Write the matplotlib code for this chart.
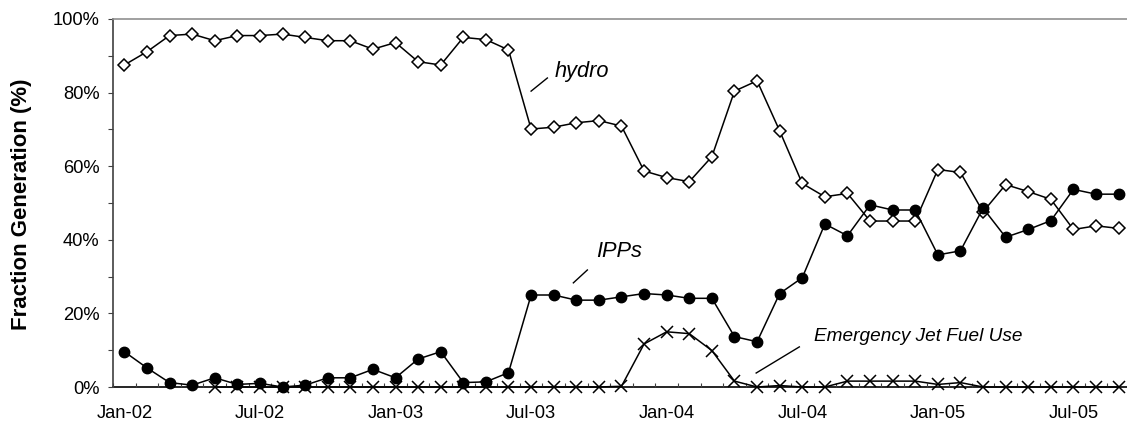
import matplotlib
matplotlib.use('Agg')
import matplotlib.pyplot as plt
from matplotlib.ticker import FixedLocator, NullFormatter, FuncFormatter

plt.rcParams['font.family'] = ['Liberation Sans', 'DejaVu Sans']

# Monthly share of generation, Jan-02 .. Sep-05 (percent)
months = list(range(45))
hydro = [87.5, 91.1, 95.5, 95.9, 94.1, 95.5, 95.5, 95.9, 95.0, 94.1, 94.1, 91.8,
         93.6, 88.4, 87.5, 95.0, 94.4, 91.6, 70.1, 70.6, 71.8, 72.4, 70.9, 58.7,
         56.9, 55.8, 62.6, 80.4, 83.2, 69.6, 55.3, 51.7, 52.6, 45.1, 45.1, 45.1,
         59.1, 58.3, 47.6, 55.0, 53.1, 51.0, 42.8, 43.8, 43.1]
ipps = [9.6, 5.2, 1.2, 0.5, 2.5, 0.7, 1.0, 0.0, 0.5, 2.5, 2.5, 4.8,
        2.5, 7.6, 9.6, 1.2, 1.4, 3.9, 25.0, 25.0, 23.6, 23.6, 24.5, 25.4,
        25.0, 24.1, 24.1, 13.7, 12.3, 25.4, 29.7, 44.3, 41.1, 49.5, 48.1, 48.1,
        35.9, 37.0, 48.6, 40.7, 42.8, 45.2, 53.7, 52.4, 52.4]
jet_fuel = [None, None, None, None, 0, 0, 0, 0, 0, 0, 0, 0,
            0, 0, 0, 0, 0, 0, 0, 0, 0, 0, 0.2, 11.7,
            15.0, 14.5, 9.9, 1.6, 0.0, 0.4, 0.0, 0.0, 1.6, 1.6, 1.6, 1.6,
            0.7, 1.2, 0, 0, 0, 0, 0, 0, 0]
tick_months = [0, 6, 12, 18, 24, 30, 36, 42]
tick_labels = ['Jan-02', 'Jul-02', 'Jan-03', 'Jul-03', 'Jan-04', 'Jul-04', 'Jan-05', 'Jul-05']

fig = plt.figure(figsize=(11.27, 4.25), dpi=100)
ax = fig.add_axes([0.1003, 0.0894, 0.8997, 0.8659])

jet_x = [m for m, v in zip(months, jet_fuel) if v is not None]
jet_y = [v for v in jet_fuel if v is not None]

ax.plot(months, hydro, color='black', lw=1.1, marker='D', ms=6.5,
        mfc='white', mec='black', mew=1.1, zorder=3, clip_on=False)
ax.plot(months, ipps, color='black', lw=1.1, marker='o', ms=7.5,
        mfc='black', mec='black', zorder=4, clip_on=False)
ax.plot(jet_x, jet_y, color='black', lw=1.1, marker='x', ms=8,
        mew=1.1, zorder=5, clip_on=False)

ax.set_xlim(-0.5, 44.37)
ax.set_ylim(0, 100)

# x axis: boundary ticks between months, labels centred on months
ax.xaxis.set_major_locator(FixedLocator([m + 0.5 for m in range(-1, 45)]))
ax.xaxis.set_major_formatter(NullFormatter())
ax.xaxis.set_minor_locator(FixedLocator(tick_months))
ax.xaxis.set_minor_formatter(FuncFormatter(lambda v, p: tick_labels[tick_months.index(int(round(v)))]))
ax.tick_params(axis='x', which='major', direction='in', length=3, width=0.8, color='#404040')
ax.tick_params(axis='x', which='minor', length=0, pad=13, labelsize=13.2)

ax.set_yticks(range(0, 101, 20))
ax.set_yticks(range(0, 101, 10), minor=True)
ax.yaxis.set_major_formatter(FuncFormatter(lambda v, p: f'{int(v)}%'))
ax.tick_params(axis='y', which='both', direction='out', length=3.6, width=0.8,
               color='#404040', labelsize=13.2, pad=6)

ax.spines['right'].set_visible(False)
ax.spines['top'].set_color('#909090')
ax.spines['top'].set_linewidth(1.2)
ax.spines['left'].set_color('#404040')
ax.spines['left'].set_linewidth(1.2)
ax.spines['bottom'].set_color('black')
ax.spines['bottom'].set_linewidth(1.2)
ax.spines['bottom'].set_zorder(1)

fig.text(22 / 1127, 0.52, 'Fraction Generation (%)', fontsize=16, fontweight='bold',
         rotation=90, ha='center', va='center')

# series annotations with short leader lines
ax.plot([18.0, 18.72], [80.4, 83.97], color='black', lw=1)
ax.text(19.03, 85.6, 'hydro', fontsize=15.7, style='italic', ha='left', va='center')
ax.plot([19.87, 20.49], [28.3, 31.8], color='black', lw=1)
ax.text(20.9, 36.7, 'IPPs', fontsize=15.7, style='italic', ha='left', va='center')
ax.plot([27.96, 29.87], [3.8, 10.9], color='black', lw=1)
ax.text(30.5, 13.6, 'Emergency Jet Fuel Use', fontsize=13.7, style='italic', ha='left', va='center')

fig.savefig('out.png', dpi=100)
plt.close(fig)
